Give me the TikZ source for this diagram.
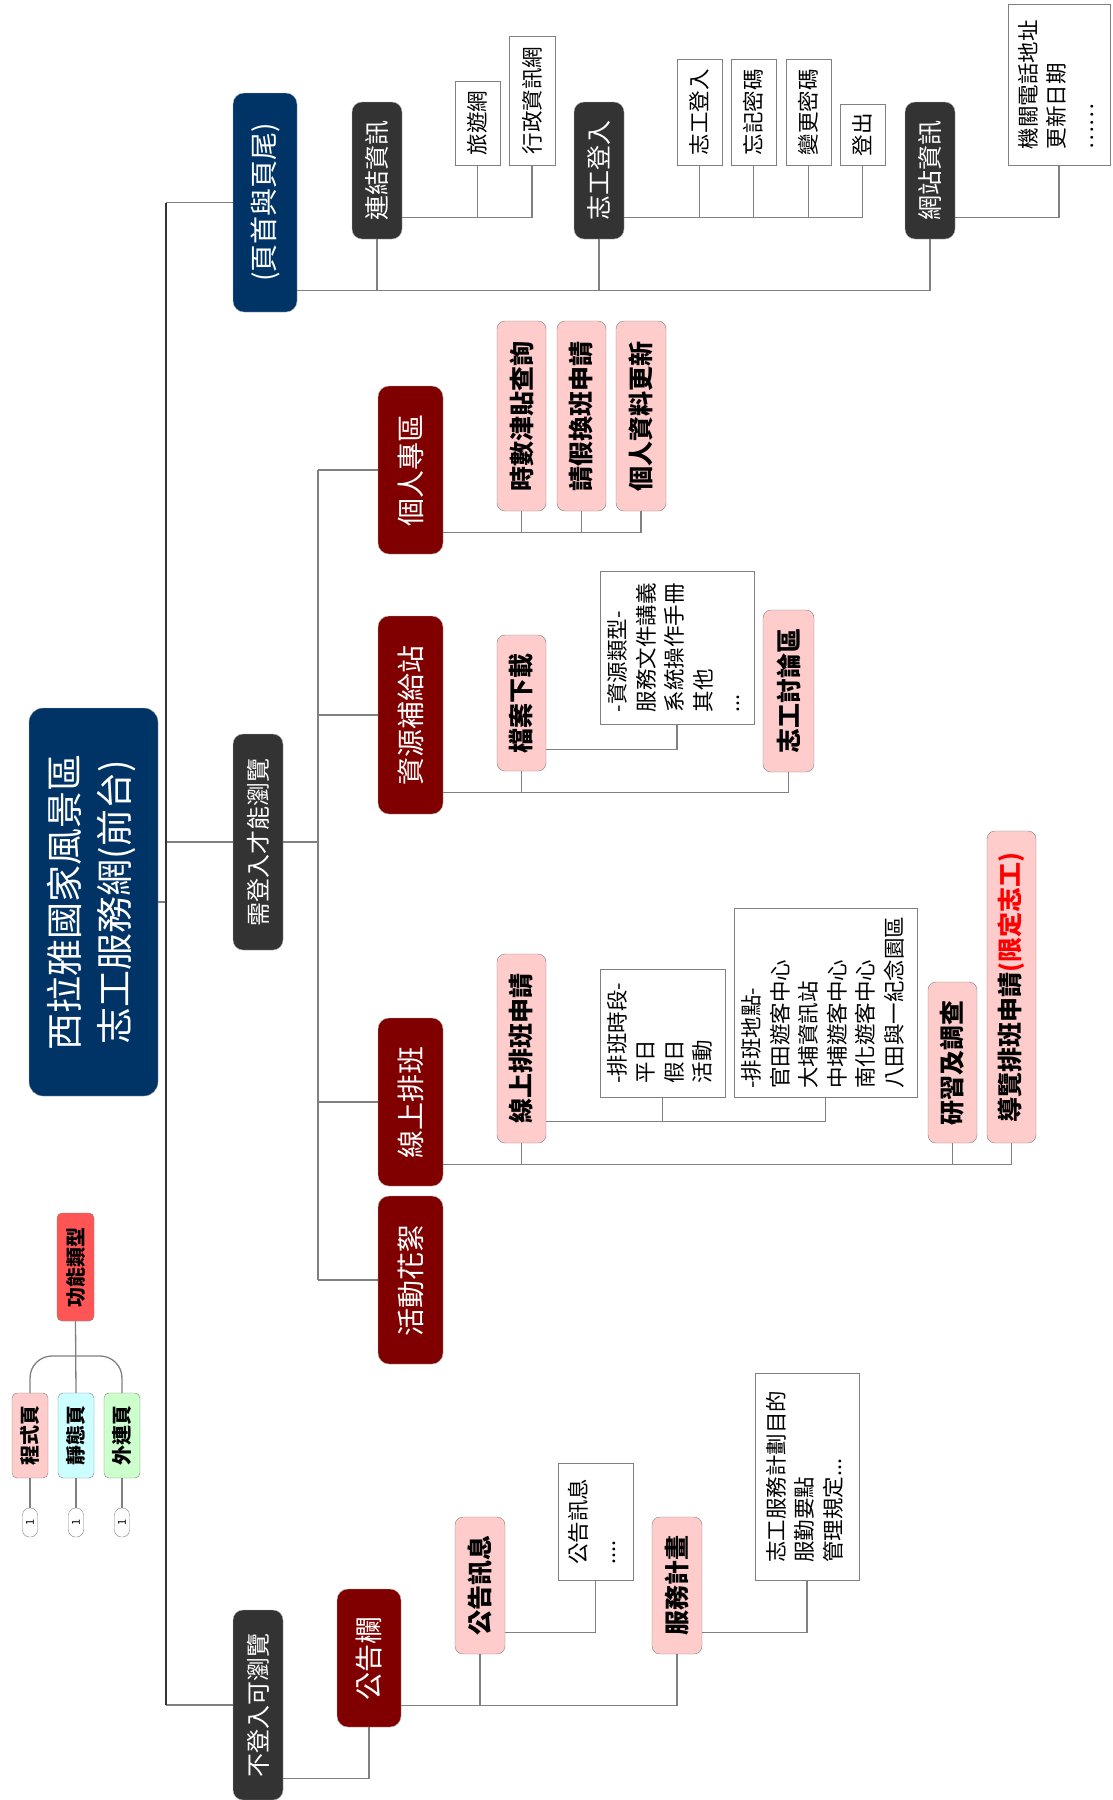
\documentclass[tikz,border=0pt]{standalone}
\usepackage{fontspec}
\setmainfont{Noto Sans CJK TC}
\usepackage{graphicx}
\usepackage{xcolor}

\definecolor{navy}{HTML}{003366}
\definecolor{slate}{HTML}{333333}
\definecolor{maroon}{HTML}{800000}
\definecolor{blush}{HTML}{FFCCCC}
\definecolor{linegray}{HTML}{808080}
\definecolor{alert}{HTML}{FF5555}
\definecolor{aqua}{HTML}{CCFFFF}
\definecolor{mint}{HTML}{CCFFCC}

\newcommand{\vlabel}[1]{\rotatebox{90}{#1}}
\newcommand{\vlines}[1]{\rotatebox{90}{\begin{tabular}{@{}l@{}}#1\end{tabular}}}

\tikzset{
  base/.style={inner sep=0pt, outer sep=0pt, align=center},
  wh/.style 2 args={minimum width=#1pt, minimum height=#2pt},
  rootbox/.style={base, fill=navy, draw=gray!60, rounded corners=14pt, text=white, font=\fontsize{37}{50}\selectfont},
  mainbox/.style={base, fill=navy, draw=gray!60, rounded corners=11pt, text=white, font=\fontsize{28}{32}\selectfont},
  greybox/.style={base, fill=slate, draw=gray!60, rounded corners=10pt, text=white, font=\fontsize{25}{30}\selectfont},
  redbox/.style={base, fill=maroon, draw=gray!60, rounded corners=11pt, text=white, font=\fontsize{28}{33}\selectfont},
  pinkbox/.style={base, fill=blush, draw=gray, rounded corners=8pt, font=\bfseries\fontsize{25}{30}\selectfont},
  notebox/.style={base, fill=white, draw=gray, font=\fontsize{21.5}{28.5}\selectfont},
  keybox/.style={base, draw=gray, rounded corners=5pt, font=\bfseries\fontsize{20}{24}\selectfont},
  pill/.style={base, draw=gray, fill=white, rounded corners=7pt, wh={15}{29}, font=\fontsize{11}{13}\selectfont},
  conn/.style={draw=linegray, line width=1.3pt},
  spine/.style={draw=slate, line width=2.6pt},
}

\begin{document}
\begin{tikzpicture}[x=1pt, y=-1pt]
\useasboundingbox (0,0) rectangle (1112,1800);

% root and first level
\node[rootbox, wh={129}{388}] (root) at (93.5,902) {\vlabel{\begin{tabular}{@{}c@{}}西拉雅國家風景區\\志工服務網(前台)\end{tabular}}};
\node[mainbox, wh={64}{219}] (head) at (265,202.5) {\vlabel{(頁首與頁尾)}};
\node[greybox, wh={50}{216}, font=\fontsize{24}{28}\selectfont] (login) at (258,842) {\vlabel{需登入才能瀏覽}};
\node[greybox, wh={50}{190}, font=\fontsize{24}{28}\selectfont] (guest) at (258,1705) {\vlabel{不登入可瀏覽}};

% header and footer
\node[greybox, wh={50}{137}] (link) at (377,170.5) {\vlabel{連結資訊}};
\node[greybox, wh={50}{137}] (vlogin) at (599,170.5) {\vlabel{志工登入}};
\node[greybox, wh={50}{137}] (site) at (930,170.5) {\vlabel{網站資訊}};
\node[notebox, wh={45}{84}] (tour) at (477.5,123) {\vlabel{旅遊網}};
\node[notebox, wh={46}{129}] (gov) at (532,100.5) {\vlabel{行政資訊網}};
\node[notebox, wh={45}{106}] (vl1) at (699.5,112) {\vlabel{志工登入}};
\node[notebox, wh={45}{106}] (vl2) at (753.5,112) {\vlabel{忘記密碼}};
\node[notebox, wh={45}{106}] (vl3) at (808.5,112) {\vlabel{變更密碼}};
\node[notebox, wh={45}{61}] (vl4) at (862.5,134.5) {\vlabel{登出}};
\node[notebox, wh={102}{161}] (siteinfo) at (1059,84.5) {\vlines{機關電話地址\\更新日期\\……}};

% login area
\node[redbox, wh={65}{168}] (personal) at (410.5,470) {\vlabel{個人專區}};
\node[redbox, wh={65}{198}] (resource) at (410.5,715) {\vlabel{資源補給站}};
\node[redbox, wh={65}{168}] (schedule) at (410.5,1102) {\vlabel{線上排班}};
\node[redbox, wh={65}{168}] (event) at (410.5,1280) {\vlabel{活動花絮}};
\node[pinkbox, wh={49}{190}] (hours) at (521.5,416) {\vlabel{時數津貼查詢}};
\node[pinkbox, wh={49}{190}] (leave) at (581.5,416) {\vlabel{請假換班申請}};
\node[pinkbox, wh={50}{190}] (update) at (641,416) {\vlabel{個人資料更新}};
\node[pinkbox, wh={49}{136}] (download) at (521.5,703) {\vlabel{檔案下載}};
\node[pinkbox, wh={51}{162}] (forum) at (788.5,691) {\vlabel{志工討論區}};
\node[notebox, wh={154}{153}] (restype) at (677,647.5) {\vlines{-資源類型-\\服務文件講義\\系統操作手冊\\其他\\...}};
\node[pinkbox, wh={49}{189}] (online) at (521.5,1048.5) {\vlabel{線上排班申請}};
\node[pinkbox, wh={49}{161}] (study) at (952.5,1062.5) {\vlabel{研習及調查}};
\node[pinkbox, wh={49}{312}] (guide) at (1011.5,987) {\vlabel{導覽排班申請\textcolor{red}{(限定志工)}}};
\node[notebox, wh={125}{128}] (slot) at (662.5,1033) {\vlines{-排班時段-\\平日\\假日\\活動}};
\node[notebox, wh={183}{189}] (place) at (825.5,1002.5) {\vlines{-排班地點-\\官田遊客中心\\大埔資訊站\\中埔遊客中心\\南化遊客中心\\八田與一紀念園區}};

% guest area
\node[redbox, wh={64}{138}] (board) at (369,1658) {\vlabel{公告欄}};
\node[pinkbox, wh={50}{137}] (news) at (480,1585.5) {\vlabel{公告訊息}};
\node[pinkbox, wh={50}{137}] (plan) at (677,1585.5) {\vlabel{服務計畫}};
\node[notebox, wh={75}{117}] (newsnote) at (595.5,1521.5) {\vlines{公告訊息\\....}};
\node[notebox, wh={104}{207}] (plannote) at (807,1476.5) {\vlines{志工服務計劃目的\\服勤要點\\管理規定...}};

% legend
\node[keybox, fill=alert, wh={37}{108}] (ftype) at (75.5,1267) {\vlabel{功能類型}};
\node[keybox, fill=blush, wh={36}{85}] (prog) at (30,1435.5) {\vlabel{程式頁}};
\node[keybox, fill=aqua, wh={36}{85}] (static) at (76,1435.5) {\vlabel{靜態頁}};
\node[keybox, fill=mint, wh={36}{85}] (ext) at (122,1435.5) {\vlabel{外連頁}};
\foreach \k/\x in {prog/30,static/76,ext/122}
  \node[pill] (\k-1) at (\x,1522.5) {\vlabel{1}};

% connectors
\coordinate (spine) at ([xshift=8pt]root.east);
\coordinate (hub) at ([xshift=35pt]login.east);
\draw[conn] (root.east) -- (spine);
\foreach \kid in {head,login,guest}
  \draw[conn] (spine |- \kid.west) -- (\kid.west);
\draw[spine] (spine |- head.west) -- (spine |- guest.west);
\draw[conn] (login.east) -- (hub);
\draw[conn] (hub |- personal.west) -- (hub |- event.west);
\foreach \kid in {personal,resource,schedule,event}
  \draw[conn] (hub |- \kid.west) -- (\kid.west);

\foreach \mom/\kids in {head/{link,vlogin,site}, link/{tour,gov}, vlogin/{vl1,vl2,vl3,vl4}, site/{siteinfo},
    personal/{hours,leave,update}, resource/{download,forum}, download/{restype},
    schedule/{online,study,guide}, online/{slot,place},
    guest/{board}, board/{news,plan}, news/{newsnote}, plan/{plannote}}
  \foreach \kid in \kids
    \draw[conn] ([yshift=21.5pt]\mom.south east) -| (\kid.south);

\draw[conn] (ftype.south) -- (static.north);
\draw[conn, rounded corners=22pt] (prog.north) -- ++(0pt,37pt) -| (ext.north);
\foreach \k in {prog,static,ext}
  \draw[conn] (\k.south) -- (\k-1.north);
\end{tikzpicture}
\end{document}
